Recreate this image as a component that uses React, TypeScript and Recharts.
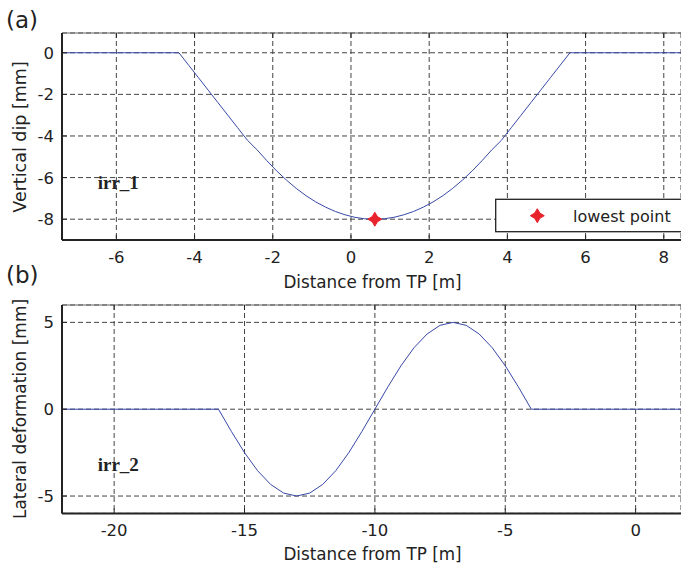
import React from "react";
import {
  ComposedChart,
  Line,
  Scatter,
  XAxis,
  YAxis,
  CartesianGrid,
} from "recharts";

// ---- Panel (a): vertical dip irr_1 ----
const TOP_X = [
  -7.39, -4.4, -4.15, -3.9, -3.65, -3.4, -3.15, -2.9, -2.65, -2.4, -2.15, -1.9,
  -1.65, -1.4, -1.15, -0.9, -0.65, -0.4, -0.15, 0.1, 0.35, 0.6, 0.85, 1.1, 1.35,
  1.6, 1.85, 2.1, 2.35, 2.6, 2.85, 3.1, 3.35, 3.6, 3.85, 4.1, 4.35, 4.6, 4.85,
  5.1, 5.35, 5.6, 8.44,
];
const TOP_DIP = [
  0, 0, -0.6, -1.2, -1.8, -2.4, -3.0, -3.6, -4.2, -4.67, -5.19, -5.68, -6.12,
  -6.52, -6.87, -7.17, -7.42, -7.63, -7.79, -7.91, -7.98, -8.0, -7.98, -7.91,
  -7.79, -7.63, -7.42, -7.17, -6.87, -6.52, -6.12, -5.68, -5.19, -4.67, -4.2,
  -3.6, -3.0, -2.4, -1.8, -1.2, -0.6, 0, 0,
];
const LOWEST_X = [0.61];
const LOWEST_Y = [-8.0];
const TOP_X_TICKS = [-6, -4, -2, 0, 2, 4, 6, 8];
const TOP_Y_TICKS = [-8, -6, -4, -2, 0];
const TOP_X_DOMAIN = [-7.39, 8.44];
const TOP_Y_DOMAIN = [-9, 0.95];

// ---- Panel (b): lateral deformation irr_2 ----
const BOT_X = [
  -22, -16, -15.5, -15, -14.5, -14, -13.5, -13, -12.5, -12, -11.5, -11, -10.5,
  -10, -9.5, -9, -8.5, -8, -7.5, -7, -6.5, -6, -5.5, -5, -4.5, -4, 1.74,
];
const BOT_LAT = [
  0, 0, -1.29, -2.5, -3.54, -4.33, -4.83, -5.0, -4.83, -4.33, -3.54, -2.5,
  -1.29, 0, 1.29, 2.5, 3.54, 4.33, 4.83, 5.0, 4.83, 4.33, 3.54, 2.5, 1.29, 0, 0,
];
const BOT_X_TICKS = [-20, -15, -10, -5, 0];
const BOT_Y_TICKS = [-5, 0, 5];
const BOT_X_DOMAIN = [-22, 1.74];
const BOT_Y_DOMAIN = [-6, 6];

const topData = TOP_X.map((x, i) => ({ x, y: TOP_DIP[i] }));
const lowestData = LOWEST_X.map((x, i) => ({ x, y: LOWEST_Y[i] }));
const botData = BOT_X.map((x, i) => ({ x, y: BOT_LAT[i] }));

const FONT = "'DejaVu Sans', 'Liberation Sans', Arial, sans-serif";
const SERIF = "'Liberation Serif', 'Times New Roman', serif";
const LINE_COLOR = "#3848a8";
const RED = "#e8232b";
const AXIS = "#222";
const GRID = "#444";

const BottomTick = (props: any) => {
  const { x, y, payload } = props;
  return (
    <g>
      <line x1={x} x2={x} y1={y} y2={y - 5} stroke={AXIS} strokeWidth={1} />
      <text
        x={x}
        y={y + 23}
        textAnchor="middle"
        fontFamily={FONT}
        fontSize={16.5}
        fill="#222"
      >
        {payload.value}
      </text>
    </g>
  );
};

const TopTick = (props: any) => {
  const { x, y } = props;
  return <line x1={x} x2={x} y1={y} y2={y + 5} stroke={AXIS} strokeWidth={1} />;
};

const LeftTick = (props: any) => {
  const { x, y, payload } = props;
  return (
    <g>
      <line x1={x} x2={x + 5} y1={y} y2={y} stroke={AXIS} strokeWidth={1} />
      <text
        x={x - 8}
        y={y}
        dy="0.36em"
        textAnchor="end"
        fontFamily={FONT}
        fontSize={16.5}
        fill="#222"
      >
        {payload.value}
      </text>
    </g>
  );
};

const Star = (props: any) => {
  const { cx, cy } = props;
  const r = 7;
  const q = 2.6;
  const d = `M${cx},${cy - r} L${cx + q},${cy - q} L${cx + r},${cy} L${cx + q},${cy + q} L${cx},${cy + r} L${cx - q},${cy + q} L${cx - r},${cy} L${cx - q},${cy - q} Z`;
  return <path d={d} fill={RED} stroke={RED} strokeWidth={1} />;
};

const Panel = (p: {
  data: any[];
  xDomain: number[];
  yDomain: number[];
  xTicks: number[];
  yTicks: number[];
  height: number;
  marginTop: number;
  marginBottom: number;
  extra?: React.ReactNode;
}) => (
  <ComposedChart
    width={681}
    height={p.height}
    data={p.data}
    margin={{ top: p.marginTop, right: 0, bottom: p.marginBottom, left: 0 }}
    style={{ background: "transparent" }}
  >
    <CartesianGrid stroke={GRID} strokeDasharray="5 3" strokeWidth={1} />
    <XAxis
      dataKey="x"
      type="number"
      domain={p.xDomain}
      ticks={p.xTicks}
      allowDataOverflow
      height={50}
      tickSize={0}
      tickMargin={0}
      tickLine={false}
      tick={BottomTick}
      axisLine={{ stroke: AXIS, strokeWidth: 2 }}
      interval={0}
    />
    <XAxis
      xAxisId="top"
      orientation="top"
      dataKey="x"
      type="number"
      domain={p.xDomain}
      ticks={p.xTicks}
      allowDataOverflow
      height={5}
      tickSize={0}
      tickMargin={0}
      tickLine={false}
      tick={TopTick}
      axisLine={{ stroke: "#666", strokeWidth: 1.2 }}
      interval={0}
    />
    <YAxis
      type="number"
      domain={p.yDomain}
      ticks={p.yTicks}
      allowDataOverflow
      width={62}
      tickSize={0}
      tickMargin={0}
      tickLine={false}
      tick={LeftTick}
      axisLine={{ stroke: AXIS, strokeWidth: 2 }}
      interval={0}
    />
    <Line
      type="linear"
      dataKey="y"
      stroke={LINE_COLOR}
      strokeWidth={1}
      dot={false}
      activeDot={false}
      isAnimationActive={false}
    />
    {p.extra}
  </ComposedChart>
);

export default function App() {
  return (
    <div
      style={{
        position: "absolute",
        left: 0,
        top: 0,
        width: 681,
        height: 569,
        background: "#fff",
        overflow: "hidden",
      }}
    >
      <div style={{ position: "absolute", left: 0, top: 0 }}>
        <Panel
          data={topData}
          xDomain={TOP_X_DOMAIN}
          yDomain={TOP_Y_DOMAIN}
          xTicks={TOP_X_TICKS}
          yTicks={TOP_Y_TICKS}
          height={290}
          marginTop={28}
          marginBottom={0}
          extra={
            <Scatter
              data={lowestData}
              dataKey="y"
              shape={Star}
              isAnimationActive={false}
            />
          }
        />
      </div>
      <div style={{ position: "absolute", left: 0, top: 290 }}>
        <Panel
          data={botData}
          xDomain={BOT_X_DOMAIN}
          yDomain={BOT_Y_DOMAIN}
          xTicks={BOT_X_TICKS}
          yTicks={BOT_Y_TICKS}
          height={279}
          marginTop={10}
          marginBottom={5.6}
        />
      </div>
      <svg
        width={681}
        height={569}
        style={{ position: "absolute", left: 0, top: 0, pointerEvents: "none" }}
      >
        <text x={6} y={27.5} fontFamily={FONT} fontSize={23} fill="#222">
          (a)
        </text>
        <text x={6} y={282.5} fontFamily={FONT} fontSize={23} fill="#222">
          (b)
        </text>
        <text
          transform="translate(25.5,137) rotate(-90)"
          textAnchor="middle"
          fontFamily={FONT}
          fontSize={17.5}
          fill="#222"
        >
          Vertical dip [mm]
        </text>
        <text
          transform="translate(25.5,409) rotate(-90)"
          textAnchor="middle"
          fontFamily={FONT}
          fontSize={17}
          fill="#222"
        >
          Lateral deformation [mm]
        </text>
        <text
          x={372.5}
          y={288}
          textAnchor="middle"
          fontFamily={FONT}
          fontSize={16.8}
          fill="#222"
        >
          Distance from TP [m]
        </text>
        <text
          x={372.5}
          y={560}
          textAnchor="middle"
          fontFamily={FONT}
          fontSize={16.8}
          fill="#222"
        >
          Distance from TP [m]
        </text>
        <text
          x={97.7}
          y={189}
          fontFamily={SERIF}
          fontWeight="bold"
          fontSize={19}
          fill="#222"
        >
          irr_1
        </text>
        <text
          x={97.7}
          y={470.7}
          fontFamily={SERIF}
          fontWeight="bold"
          fontSize={19}
          fill="#222"
        >
          irr_2
        </text>
        <rect
          x={495.7}
          y={199.3}
          width={192}
          height={32.4}
          fill="#fff"
          stroke="#222"
          strokeWidth={1.3}
        />
        <path
          d="M537.3,208.7 L539.9,213.1 L544.3,215.7 L539.9,218.3 L537.3,222.7 L534.7,218.3 L530.3,215.7 L534.7,213.1 Z"
          fill={RED}
          stroke={RED}
        />
        <text x={573} y={221.5} fontFamily={FONT} fontSize={16} fill="#222">
          lowest point
        </text>
      </svg>
    </div>
  );
}
